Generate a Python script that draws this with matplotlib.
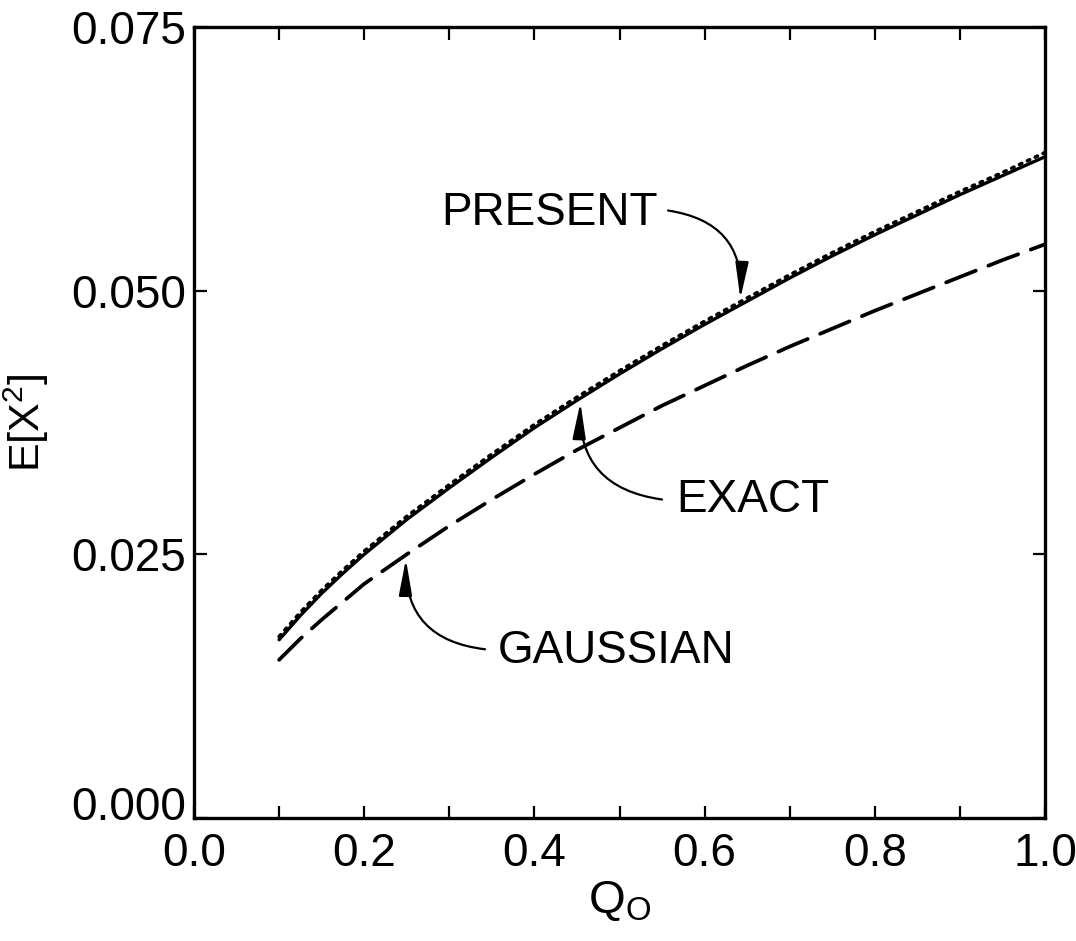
import numpy as np
import matplotlib
matplotlib.use('Agg')
import matplotlib.pyplot as plt
from matplotlib.transforms import ScaledTranslation

# curve readings from the figure
q = [0.100, 0.125, 0.150, 0.175, 0.20, 0.25, 0.30, 0.35, 0.40, 0.45, 0.50,
     0.55, 0.60, 0.65, 0.70, 0.75, 0.80, 0.85, 0.90, 0.95, 1.00]
exact = [0.0169, 0.0192, 0.0213, 0.0232, 0.0250, 0.0283, 0.0313, 0.0342, 0.0370, 0.0396, 0.0421,
         0.0445, 0.0468, 0.0490, 0.0512, 0.0533, 0.0553, 0.0572, 0.0591, 0.0609, 0.0627]
present = [0.0172, 0.0195, 0.0216, 0.0235, 0.0253, 0.0286, 0.0316, 0.0345, 0.0373, 0.0399, 0.0424,
           0.0448, 0.0471, 0.0493, 0.0515, 0.0536, 0.0556, 0.0575, 0.0594, 0.0612, 0.0631]
gaussian = [0.0150, 0.0170, 0.0188, 0.0205, 0.0222, 0.0250, 0.0277, 0.0302, 0.0326, 0.0349, 0.0370,
            0.0391, 0.0410, 0.0429, 0.0447, 0.0464, 0.0481, 0.0497, 0.0513, 0.0529, 0.0544]

x_ticks = [0.0, 0.1, 0.2, 0.3, 0.4, 0.5, 0.6, 0.7, 0.8, 0.9, 1.0]
x_labels = ['0.0', '', '0.2', '', '0.4', '', '0.6', '', '0.8', '', '1.0']
y_ticks = [0.000, 0.025, 0.050, 0.075]
y_labels = ['0.000', '0.025', '0.050', '0.075']

plt.rcParams['font.family'] = ['Liberation Sans', 'DejaVu Sans']
plt.rcParams['mathtext.fontset'] = 'custom'
plt.rcParams['mathtext.rm'] = 'Liberation Sans'

fig = plt.figure(figsize=(10.76, 9.41), dpi=100)
ax = fig.add_axes([0.1803, 0.1307, 0.7909, 0.8406])

ax.plot(q, exact, color='black', lw=2.4, solid_capstyle='round', solid_joinstyle='round')
ax.plot(q, present, color='black', lw=2.6, dashes=(0.7, 1.7), dash_capstyle='round')
ax.plot(q, gaussian, color='black', lw=2.7, dashes=(8.5, 3.6), dash_capstyle='round')

ax.set_xlim(0.0, 1.0)
ax.set_ylim(0.0, 0.075)
ax.set_xticks(x_ticks)
ax.set_xticklabels(x_labels)
ax.set_yticks(y_ticks)
ax.set_yticklabels(y_labels)
ax.tick_params(direction='in', length=9, width=1.6, top=True, right=True,
               labelsize=33, color='black')
ax.tick_params(axis='x', pad=10)
ax.tick_params(axis='y', pad=6)
for s in ax.spines.values():
    s.set_linewidth(2.4)

# the 0.000 label sits a little above the corner
lab0 = ax.get_yticklabels()[0]
lab0.set_transform(lab0.get_transform() + ScaledTranslation(0, 0.15, fig.dpi_scale_trans))

ax.set_xlabel(r'$\mathregular{Q_O}$', fontsize=34, labelpad=2)
ax.set_ylabel(r'$\mathregular{E[X^2]}$', fontsize=31, labelpad=14)

# labels with curved arrows
arrow = dict(arrowstyle='-|>,head_length=1.1,head_width=0.2', color='black',
             lw=1.6, mutation_scale=20, shrinkA=0, shrinkB=0,
             connectionstyle='arc3,rad=-0.45')

ax.text(0.418, 0.0574, 'PRESENT', fontsize=33, ha='center', va='center')
ax.annotate('', xy=(0.642, np.interp(0.642, q, present) + 0.0003),
            xytext=(0.557, 0.0576), arrowprops=arrow)

ax.text(0.567, 0.0302, 'EXACT', fontsize=33, ha='left', va='center')
ax.annotate('', xy=(0.454, np.interp(0.454, q, exact) - 0.0004),
            xytext=(0.550, 0.0302), arrowprops=arrow)

ax.text(0.357, 0.0158, 'GAUSSIAN', fontsize=33, ha='left', va='center')
ax.annotate('', xy=(0.249, np.interp(0.249, q, gaussian) - 0.0004),
            xytext=(0.342, 0.0160), arrowprops=arrow)

fig.savefig('out.png', dpi=100)
